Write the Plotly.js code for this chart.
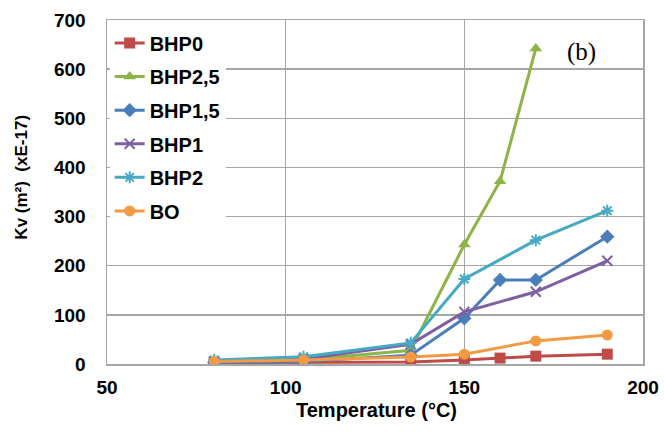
<!DOCTYPE html>
<html><head><meta charset="utf-8">
<script src="https://cdn.plot.ly/plotly-3.0.1.min.js"></script>
<style>html,body{margin:0;padding:0;background:#fff;}#chart{width:664px;height:432px;}</style>
</head><body><div id="chart"></div>
<script>
const seriesNames = ["BHP0", "BHP2,5", "BHP1,5", "BHP1", "BHP2", "BO"];
const xBHP0 = [80, 105, 135, 150, 160, 170, 190];
const yBHP0 = [3, 3, 4, 8, 12, 16, 20];
const xBHP25 = [80, 105, 135, 150, 160, 170];
const yBHP25 = [5, 8, 28, 243, 372, 642];
const xBHP15 = [80, 105, 135, 150, 160, 170, 190];
const yBHP15 = [3, 5, 18, 93, 171, 171, 259];
const xBHP1 = [80, 105, 135, 150, 170, 190];
const yBHP1 = [5, 10, 40, 106, 147, 210];
const xBHP2 = [80, 105, 135, 150, 170, 190];
const yBHP2 = [8, 15, 43, 173, 252, 312];
const xBO = [80, 105, 135, 150, 170, 190];
const yBO = [5, 8, 14, 20, 47, 59];
const colors = ["#be4b48", "#8cb447", "#4a7ebb", "#7e5fa3", "#46aac4", "#f29a44"];
const symbols = ["square", "triangle-up", "diamond", "x-thin-open", "asterisk-open", "circle"];
const xs = [xBHP0, xBHP25, xBHP15, xBHP1, xBHP2, xBO];
const ys = [yBHP0, yBHP25, yBHP15, yBHP1, yBHP2, yBO];

const traces = seriesNames.map((n, i) => ({
  x: xs[i], y: ys[i], name: n, legendgroup: 'g' + i, type: 'scatter', mode: 'lines+markers',
  line: {color: colors[i], width: 3},
  marker: {symbol: symbols[i], color: colors[i], size: (i===3||i===4)?10:11,
           line: {color: colors[i], width: (i===3||i===4)?2:0}}
}));

const fontFam = 'Liberation Sans, Arial, sans-serif';
const layout = {
  width: 664, height: 432,
  margin: {l: 107, r: 21, t: 20, b: 68},
  paper_bgcolor: '#fff', plot_bgcolor: '#fff',
  font: {family: fontFam, color: '#000'},
  showlegend: true,
  legend: {x: 0.005, y: 0.99, xanchor: 'left', yanchor: 'top', bgcolor: '#fff',
           font: {size: 20, family: fontFam, weight: 'bold'},
           tracegroupgap: 4.6, itemwidth: 30},
  xaxis: {range: [50, 200], dtick: 50, tick0: 50, showgrid: true, gridcolor: '#a6a6a6', gridwidth: 1.5,
          zeroline: false, showline: true, linecolor: '#a6a6a6', linewidth: 1.5, mirror: true,
          ticks: '', ticklabelstandoff: 6, tickfont: {size: 19, weight: 'bold'}},
  yaxis: {range: [0, 700], dtick: 100, showgrid: true, gridcolor: '#a6a6a6', gridwidth: 1.5,
          zeroline: false, showline: true, linecolor: '#a6a6a6', linewidth: 1.5, mirror: true,
          ticks: 'inside', ticklen: 4, tickcolor: '#a6a6a6', ticklabelstandoff: 16,
          tickfont: {size: 19, weight: 'bold'}},
  annotations: [
    {text: '(b)', xref: 'paper', yref: 'paper', x: 0.885, y: 0.907, xanchor: 'center', yanchor: 'middle',
     showarrow: false, font: {family: 'Liberation Serif, Times New Roman, serif', size: 25, color: '#000'}},
    {text: 'Temperature (°C)', xref: 'paper', yref: 'paper', x: 0.503, y: -0.135, xanchor: 'center', yanchor: 'middle',
     showarrow: false, font: {family: fontFam, size: 20, weight: 'bold', color: '#000'}},
    {text: 'Kv (m²)  (xE-17)', xref: 'paper', yref: 'paper', x: -0.159, y: 0.544, xanchor: 'center', yanchor: 'middle',
     textangle: -90, showarrow: false, font: {family: fontFam, size: 17, weight: 'bold', color: '#000'}}
  ]
};
Plotly.newPlot('chart', traces, layout, {displayModeBar: false, staticPlot: true});
</script></body></html>
